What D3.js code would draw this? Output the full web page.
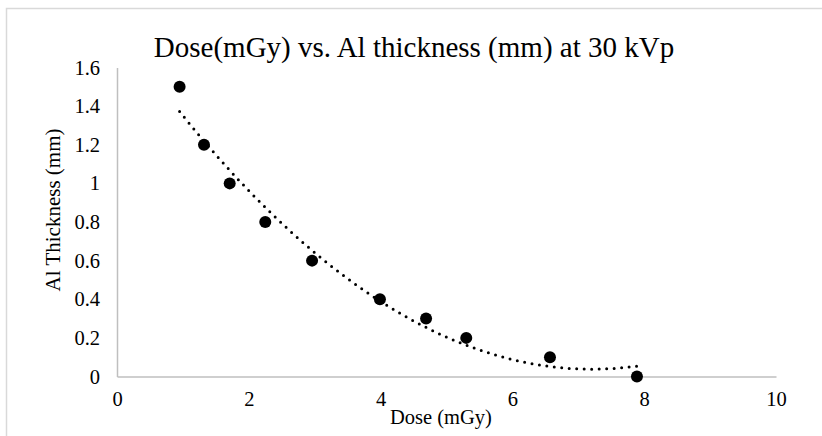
<!DOCTYPE html>
<html>
<head>
<meta charset="utf-8">
<script src="https://cdn.jsdelivr.net/npm/d3@7"></script>
<style>
  body { margin: 0; background: #fff; }
  text { font-family: "Liberation Serif", "Times New Roman", serif; fill: #000; }
</style>
</head>
<body>
<div id="chart"></div>
<script>
// dose in mGy vs aluminium thickness in mm
var dose = [0.95, 1.32, 1.71, 2.25, 2.96, 3.99, 4.69, 5.30, 6.57, 7.89];
var thickness = [1.5, 1.2, 1.0, 0.8, 0.6, 0.4, 0.3, 0.2, 0.1, 0.0];
var xTicks = [0, 2, 4, 6, 8, 10];
var yTicks = [0, 0.2, 0.4, 0.6, 0.8, 1, 1.2, 1.4, 1.6];

var width = 822,
    height = 436;

var svg = d3.select('#chart')
    .append('svg')
    .attr('width', width)
    .attr('height', height);

svg.append('rect')
    .attr('x', 6.5).attr('y', 8.5)
    .attr('width', 840).attr('height', 460)
    .attr('fill', '#fff')
    .attr('stroke', '#d9d9d9')
    .attr('stroke-width', 1.5);

var x = d3.scaleLinear().domain([0, 10]).range([117, 776]),
    y = d3.scaleLinear().domain([0, 1.6]).range([376.5, 67.5]);

// axes
var xAxis = svg.append('g')
    .attr('transform', 'translate(0,' + y(0) + ')')
    .call(d3.axisBottom(x).tickValues(xTicks).tickSize(0).tickPadding(15).tickFormat(d3.format('~g')));

var yAxis = svg.append('g')
    .attr('transform', 'translate(' + x(0) + ',0)')
    .call(d3.axisLeft(y).tickValues(yTicks).tickSize(0).tickPadding(17).tickFormat(d3.format('~g')));

[xAxis, yAxis].forEach(function (g) {
    g.select('.domain').attr('stroke', '#bfbfbf').attr('stroke-width', 1.5);
    g.selectAll('text').style('font-size', '20.5px').style('font-family', '"Liberation Serif", serif');
});

// polynomial (order 2) trendline, least squares fit of the points
function polyFit(xs, ys) {
    var n = xs.length, s = [0, 0, 0, 0, 0], t = [0, 0, 0];
    for (var i = 0; i < n; i++) {
        for (var k = 0; k < 5; k++) s[k] += Math.pow(xs[i], k);
        for (var k2 = 0; k2 < 3; k2++) t[k2] += ys[i] * Math.pow(xs[i], k2);
    }
    var m = [[s[0], s[1], s[2], t[0]], [s[1], s[2], s[3], t[1]], [s[2], s[3], s[4], t[2]]];
    for (var c = 0; c < 3; c++) {
        for (var r = c + 1; r < 3; r++) {
            var f = m[r][c] / m[c][c];
            for (var j = c; j < 4; j++) m[r][j] -= f * m[c][j];
        }
    }
    var b = [0, 0, 0];
    for (var r2 = 2; r2 >= 0; r2--) {
        var v = m[r2][3];
        for (var j2 = r2 + 1; j2 < 3; j2++) v -= m[r2][j2] * b[j2];
        b[r2] = v / m[r2][r2];
    }
    return b;
}

var coef = polyFit(dose, thickness);
var x0 = d3.min(dose), x1 = d3.max(dose);
var trend = d3.range(0, 101).map(function (i) {
    var xv = x0 + (x1 - x0) * i / 100;
    return [xv, coef[0] + coef[1] * xv + coef[2] * xv * xv];
});

svg.append('path')
    .datum(trend)
    .attr('fill', 'none')
    .attr('stroke', '#000')
    .attr('stroke-width', 3)
    .attr('stroke-linecap', 'round')
    .attr('stroke-dasharray', '0 7.5')
    .attr('d', d3.line().x(function (d) { return x(d[0]); }).y(function (d) { return y(d[1]); }));

// markers
svg.append('g').selectAll('circle')
    .data(dose)
    .enter()
    .append('circle')
    .attr('cx', function (d) { return x(d); })
    .attr('cy', function (d, i) { return y(thickness[i]); })
    .attr('r', 6)
    .attr('fill', '#000');

// titles
svg.append('text')
    .attr('x', 414).attr('y', 56.5)
    .attr('text-anchor', 'middle')
    .style('font-size', '29px')
    .text('Dose(mGy) vs. Al thickness (mm) at 30 kVp');

svg.append('text')
    .attr('x', 441).attr('y', 424)
    .attr('text-anchor', 'middle')
    .style('font-size', '20.5px')
    .text('Dose (mGy)');

svg.append('text')
    .attr('transform', 'translate(60,210) rotate(-90)')
    .attr('text-anchor', 'middle')
    .style('font-size', '21px')
    .text('Al Thickness (mm)');
</script>
</body>
</html>
